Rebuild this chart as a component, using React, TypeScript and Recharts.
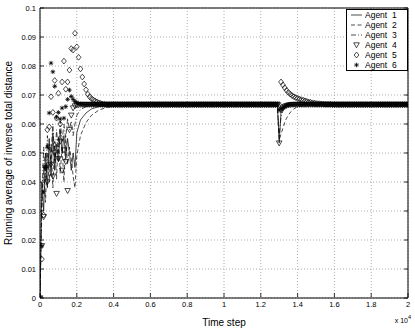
import { ComposedChart, Line, Scatter, XAxis, YAxis, CartesianGrid } from "recharts";

const FONT = '"Liberation Sans", Arial, Helvetica, sans-serif';

// time steps for marker agents (4-6), sampled every 100 steps
const T_EARLY = [
  0, 100, 200, 300, 400, 500, 600, 700, 800, 900, 1000, 1100, 1200, 1300, 1400, 1500, 1600, 1700, 1800, 1900, 2000,
  2100, 2200, 2300, 2400, 2500, 2600, 2700, 2800, 2900, 3000, 3100, 3200, 3300, 3400, 3500, 3600, 3700, 3800, 3900, 4000,
];
const T_MID = [
  4100, 4200, 4300, 4400, 4500, 4600, 4700, 4800, 4900, 5000, 5100, 5200, 5300, 5400, 5500, 5600, 5700, 5800, 5900, 6000,
  6100, 6200, 6300, 6400, 6500, 6600, 6700, 6800, 6900, 7000, 7100, 7200, 7300, 7400, 7500, 7600, 7700, 7800, 7900, 8000,
  8100, 8200, 8300, 8400, 8500, 8600, 8700, 8800, 8900, 9000, 9100, 9200, 9300, 9400, 9500, 9600, 9700, 9800, 9900, 10000,
  10100, 10200, 10300, 10400, 10500, 10600, 10700, 10800, 10900, 11000, 11100, 11200, 11300, 11400, 11500, 11600, 11700,
  11800, 11900, 12000, 12100, 12200, 12300, 12400, 12500, 12600, 12700, 12800,
];
const T_DIP = [
  12900, 13000, 13100, 13200, 13300, 13400, 13500, 13600, 13700, 13800, 13900, 14000, 14100, 14200, 14300, 14400, 14500,
  14600, 14700, 14800, 14900, 15000,
];
const T_LATE = [
  15100, 15200, 15300, 15400, 15500, 15600, 15700, 15800, 15900, 16000, 16100, 16200, 16300, 16400, 16500, 16600, 16700,
  16800, 16900, 17000, 17100, 17200, 17300, 17400, 17500, 17600, 17700, 17800, 17900, 18000, 18100, 18200, 18300, 18400,
  18500, 18600, 18700, 18800, 18900, 19000, 19100, 19200, 19300, 19400, 19500, 19600, 19700, 19800, 19900, 20000,
];
const T_MARK = [...T_EARLY, ...T_MID, ...T_DIP, ...T_LATE];

// settled value, 88 samples
const STEADY_MID = [
  0.0667, 0.0667, 0.0667, 0.0667, 0.0667, 0.0667, 0.0667, 0.0667, 0.0667, 0.0667, 0.0667,
  0.0667, 0.0667, 0.0667, 0.0667, 0.0667, 0.0667, 0.0667, 0.0667, 0.0667, 0.0667, 0.0667,
  0.0667, 0.0667, 0.0667, 0.0667, 0.0667, 0.0667, 0.0667, 0.0667, 0.0667, 0.0667, 0.0667,
  0.0667, 0.0667, 0.0667, 0.0667, 0.0667, 0.0667, 0.0667, 0.0667, 0.0667, 0.0667, 0.0667,
  0.0667, 0.0667, 0.0667, 0.0667, 0.0667, 0.0667, 0.0667, 0.0667, 0.0667, 0.0667, 0.0667,
  0.0667, 0.0667, 0.0667, 0.0667, 0.0667, 0.0667, 0.0667, 0.0667, 0.0667, 0.0667, 0.0667,
  0.0667, 0.0667, 0.0667, 0.0667, 0.0667, 0.0667, 0.0667, 0.0667, 0.0667, 0.0667, 0.0667,
  0.0667, 0.0667, 0.0667, 0.0667, 0.0667, 0.0667, 0.0667, 0.0667, 0.0667, 0.0667, 0.0667,
];
// settled value, 50 samples
const STEADY_LATE = [
  0.0667, 0.0667, 0.0667, 0.0667, 0.0667, 0.0667, 0.0667, 0.0667, 0.0667, 0.0667,
  0.0667, 0.0667, 0.0667, 0.0667, 0.0667, 0.0667, 0.0667, 0.0667, 0.0667, 0.0667,
  0.0667, 0.0667, 0.0667, 0.0667, 0.0667, 0.0667, 0.0667, 0.0667, 0.0667, 0.0667,
  0.0667, 0.0667, 0.0667, 0.0667, 0.0667, 0.0667, 0.0667, 0.0667, 0.0667, 0.0667,
  0.0667, 0.0667, 0.0667, 0.0667, 0.0667, 0.0667, 0.0667, 0.0667, 0.0667, 0.0667,
];

const AGENT4_EARLY = [
  0, 0.018, 0.028, 0.045, 0.04, 0.052, 0.046, 0.042, 0.05, 0.036, 0.048, 0.054, 0.044, 0.051, 0.047, 0.037, 0.058,
  0.063, 0.0655, 0.0662, 0.0665, 0.0666, 0.0667, 0.0667, 0.0667, 0.0667, 0.0667, 0.0667, 0.0667, 0.0667, 0.0667,
  0.0667, 0.0667, 0.0667, 0.0667, 0.0667, 0.0667, 0.0667, 0.0667, 0.0667, 0.0667,
];
const AGENT4_DIP = [
  0.0667, 0.0534, 0.0648, 0.0655, 0.066, 0.0663, 0.0665, 0.0666, 0.0667, 0.0667, 0.0667, 0.0667, 0.0667, 0.0667,
  0.0667, 0.0667, 0.0667, 0.0667, 0.0667, 0.0667, 0.0667, 0.0667,
];

const AGENT5_EARLY = [
  0, 0.0134, 0.0286, 0.045, 0.058, 0.059, 0.0694, 0.064, 0.075, 0.062, 0.0706, 0.06, 0.0745, 0.0817, 0.072, 0.0745,
  0.0786, 0.086, 0.0855, 0.0913, 0.0866, 0.083, 0.079, 0.0762, 0.0738, 0.0718, 0.0703, 0.0694, 0.0688, 0.0683,
  0.0679, 0.0676, 0.0673, 0.0671, 0.0669, 0.0668, 0.0667, 0.0667, 0.0667, 0.0667, 0.0667,
];
const AGENT5_DIP = [
  0.0667, 0.0667, 0.0745, 0.0735, 0.0725, 0.0716, 0.0709, 0.0703, 0.0698, 0.0694, 0.0691, 0.0688, 0.0686, 0.0684,
  0.0682, 0.068, 0.0678, 0.0676, 0.0675, 0.0673, 0.0672, 0.0671,
];
const AGENT5_LATE = [
  0.067, 0.067, 0.0669, 0.0669, 0.0668, 0.0668, 0.0668, 0.0668, 0.0667, 0.0667,
  0.0667, 0.0667, 0.0667, 0.0667, 0.0667, 0.0667, 0.0667, 0.0667, 0.0667, 0.0667,
  0.0667, 0.0667, 0.0667, 0.0667, 0.0667, 0.0667, 0.0667, 0.0667, 0.0667, 0.0667,
  0.0667, 0.0667, 0.0667, 0.0667, 0.0667, 0.0667, 0.0667, 0.0667, 0.0667, 0.0667,
  0.0667, 0.0667, 0.0667, 0.0667, 0.0667, 0.0667, 0.0667, 0.0667, 0.0667, 0.0667,
];

const AGENT6_EARLY = [
  0, 0.018, 0.0366, 0.045, 0.052, 0.0638, 0.081, 0.078, 0.073, 0.0624, 0.064, 0.0617, 0.0655, 0.062, 0.066, 0.0685,
  0.0717, 0.0695, 0.0685, 0.0678, 0.0674, 0.0671, 0.0669, 0.0668, 0.0667, 0.0667, 0.0667, 0.0667, 0.0667, 0.0667,
  0.0667, 0.0667, 0.0667, 0.0667, 0.0667, 0.0667, 0.0667, 0.0667, 0.0667, 0.0667, 0.0667,
];
const AGENT6_DIP = [
  0.0667, 0.0648, 0.0652, 0.0657, 0.0661, 0.0664, 0.0666, 0.0667, 0.0667, 0.0667, 0.0667, 0.0667, 0.0667, 0.0667,
  0.0667, 0.0667, 0.0667, 0.0667, 0.0667, 0.0667, 0.0667, 0.0667,
];

const AGENT4 = [...AGENT4_EARLY, ...STEADY_MID, ...AGENT4_DIP, ...STEADY_LATE];
const AGENT5 = [...AGENT5_EARLY, ...STEADY_MID, ...AGENT5_DIP, ...AGENT5_LATE];
const AGENT6 = [...AGENT6_EARLY, ...STEADY_MID, ...AGENT6_DIP, ...STEADY_LATE];

// time steps for line agents (1-3)
const T_LINE = [
  0, 100, 200, 300, 400, 500, 600, 700, 800, 900, 1000, 1100, 1200, 1300, 1400, 1500, 1600, 1700, 1800, 1900, 2000,
  2200, 2500, 2800, 3200, 3600, 4000, 4500, 5000,
  12900, 13000, 13100, 13200, 13300, 13400, 13600, 13800, 14000, 14500, 15000, 20000,
];
const AGENT1 = [
  0, 0.04, 0.03, 0.05, 0.038, 0.055, 0.042, 0.057, 0.044, 0.053, 0.047, 0.058, 0.05, 0.056, 0.048, 0.055, 0.05, 0.044,
  0.05, 0.045, 0.057,
  0.0614, 0.0638, 0.0652, 0.066, 0.0664, 0.0666, 0.0667, 0.0667,
  0.0667, 0.0534, 0.0645, 0.0656, 0.0661, 0.0664, 0.0666, 0.0667, 0.0667, 0.0667, 0.0667, 0.0667,
];
const AGENT2 = [
  0, 0.03, 0.045, 0.033, 0.05, 0.04, 0.052, 0.038, 0.054, 0.041, 0.056, 0.043, 0.052, 0.04, 0.055, 0.046, 0.052, 0.048,
  0.042, 0.038, 0.049,
  0.056, 0.0605, 0.063, 0.0648, 0.0657, 0.0662, 0.0665, 0.0667,
  0.0667, 0.0545, 0.0565, 0.0585, 0.0605, 0.062, 0.064, 0.0652, 0.066, 0.0666, 0.0667, 0.0667,
];
const AGENT3 = [
  0, 0.035, 0.052, 0.04, 0.056, 0.045, 0.05, 0.06, 0.047, 0.058, 0.05, 0.061, 0.054, 0.06, 0.055, 0.062, 0.058, 0.061,
  0.056, 0.06, 0.063,
  0.065, 0.066, 0.0664, 0.0666, 0.0667, 0.0667, 0.0667, 0.0667,
  0.0667, 0.056, 0.0625, 0.0645, 0.0655, 0.066, 0.0664, 0.0666, 0.0667, 0.0667, 0.0667, 0.0667,
];

const X_TICKS = [0, 2000, 4000, 6000, 8000, 10000, 12000, 14000, 16000, 18000, 20000];
const Y_TICKS = [0, 0.01, 0.02, 0.03, 0.04, 0.05, 0.06, 0.07, 0.08, 0.09, 0.1];

const LEGEND_NAMES = ["Agent  1", "Agent  2", "Agent  3", "Agent  4", "Agent  5", "Agent  6"];

const zip = (ts: number[], vs: number[]) => ts.map((t, i) => ({ t, v: vs[i] }));

const GAP = 4;
const TL = 4;

function BottomTick(p: any) {
  const ay = p.y - GAP - 1;
  return (
    <g>
      <line x1={p.x} x2={p.x} y1={ay} y2={ay - TL} stroke="#000" strokeWidth={0.8} />
      <text x={p.x} y={p.y} dy="0.71em" textAnchor="middle" fontSize={7.5} fontFamily={FONT} fill="#000">
        {String(p.payload.value / 10000)}
      </text>
    </g>
  );
}
function TopTick(p: any) {
  const ay = p.y + GAP;
  return <line x1={p.x} x2={p.x} y1={ay} y2={ay + TL} stroke="#000" strokeWidth={0.8} />;
}
function LeftTick(p: any) {
  const ax = p.x + GAP;
  return (
    <g>
      <line x1={ax} x2={ax + TL} y1={p.y} y2={p.y} stroke="#000" strokeWidth={0.8} />
      <text x={p.x} y={p.y} dy="0.35em" textAnchor="end" fontSize={7.5} fontFamily={FONT} fill="#000">
        {String(Number(p.payload.value.toFixed(2)))}
      </text>
    </g>
  );
}
function RightTick(p: any) {
  const ax = p.x - GAP;
  return <line x1={ax} x2={ax - TL} y1={p.y} y2={p.y} stroke="#000" strokeWidth={0.8} />;
}

function Tri({ cx, cy }: { cx: number; cy: number }) {
  return (
    <path
      d={`M${cx - 2.8},${cy - 2.2} L${cx + 2.8},${cy - 2.2} L${cx},${cy + 2.8} Z`}
      fill="none"
      stroke="#000"
      strokeWidth={0.7}
    />
  );
}
function Dia({ cx, cy }: { cx: number; cy: number }) {
  return (
    <path
      d={`M${cx},${cy - 2.9} L${cx + 2.4},${cy} L${cx},${cy + 2.9} L${cx - 2.4},${cy} Z`}
      fill="none"
      stroke="#000"
      strokeWidth={0.7}
    />
  );
}
function Star({ cx, cy }: { cx: number; cy: number }) {
  const r = 2.3;
  const d = 1.6;
  return (
    <path
      d={`M${cx - r},${cy} L${cx + r},${cy} M${cx},${cy - r} L${cx},${cy + r} M${cx - d},${cy - d} L${cx + d},${cy + d} M${cx - d},${cy + d} L${cx + d},${cy - d}`}
      stroke="#000"
      strokeWidth={0.8}
    />
  );
}

const LINE_STYLES = [undefined, "4 2.5", "5 2 1 2"];

function Legend() {
  return (
    <div
      style={{
        position: "absolute",
        left: 346,
        top: 9,
        width: 60,
        height: 60,
        border: "1px solid #000",
        background: "#fff",
        fontFamily: FONT,
        fontSize: 8.5,
      }}
    >
      {LEGEND_NAMES.map((name, i) => (
        <div key={name} style={{ height: 10, display: "flex", alignItems: "center" }}>
          <svg width={18} height={10}>
            {i < 3 ? (
              <line x1={4} x2={15} y1={5} y2={5} stroke="#000" strokeWidth={0.7} strokeDasharray={LINE_STYLES[i]} />
            ) : i === 3 ? (
              <Tri cx={9.5} cy={5} />
            ) : i === 4 ? (
              <Dia cx={9.5} cy={5} />
            ) : (
              <Star cx={9.5} cy={5} />
            )}
          </svg>
          <span style={{ whiteSpace: "pre", lineHeight: "10px" }}>{name}</span>
        </div>
      ))}
    </div>
  );
}

export default function App() {
  return (
    <div style={{ position: "absolute", left: 0, top: 0, width: 415, height: 329, background: "#fff" }}>
      <ComposedChart width={415} height={329} margin={{ top: 0, right: 0, bottom: 0, left: 0 }}>
        <CartesianGrid stroke="#9a9a9a" strokeDasharray="1 2" strokeWidth={0.8} />
        <XAxis
          dataKey="t"
          type="number"
          domain={[0, 20000]}
          allowDataOverflow
          ticks={X_TICKS}
          interval={0}
          height={31}
          tickSize={0}
          tickMargin={GAP}
          tick={BottomTick}
          axisLine={{ stroke: "#000" }}
          label={{ value: "Time step", position: "insideBottom", offset: 3, fontSize: 10, fontFamily: FONT, fill: "#000" }}
        />
        <XAxis
          xAxisId="top"
          orientation="top"
          type="number"
          domain={[0, 20000]}
          allowDataOverflow
          ticks={X_TICKS}
          interval={0}
          height={8}
          tickSize={0}
          tickMargin={GAP}
          tick={TopTick}
          axisLine={{ stroke: "#000" }}
        />
        <YAxis
          dataKey="v"
          type="number"
          domain={[0, 0.1]}
          allowDataOverflow
          ticks={Y_TICKS}
          interval={0}
          width={40}
          tickSize={0}
          tickMargin={GAP}
          tick={LeftTick}
          axisLine={{ stroke: "#000" }}
          label={{
            value: "Running average of inverse total distance",
            angle: -90,
            position: "insideLeft",
            offset: 8,
            fontSize: 10,
            fontFamily: FONT,
            fill: "#000",
            style: { textAnchor: "middle" },
          }}
        />
        <YAxis
          yAxisId="right"
          orientation="right"
          type="number"
          domain={[0, 0.1]}
          allowDataOverflow
          ticks={Y_TICKS}
          interval={0}
          width={7}
          tickSize={0}
          tickMargin={GAP}
          tick={RightTick}
          axisLine={{ stroke: "#000" }}
        />
        <Line data={zip(T_LINE, AGENT1)} dataKey="v" stroke="#000" strokeWidth={0.7} dot={false} isAnimationActive={false} />
        <Line data={zip(T_LINE, AGENT2)} dataKey="v" stroke="#000" strokeWidth={0.7} strokeDasharray="4 2.5" dot={false} isAnimationActive={false} />
        <Line data={zip(T_LINE, AGENT3)} dataKey="v" stroke="#000" strokeWidth={0.7} strokeDasharray="5 2 1 2" dot={false} isAnimationActive={false} />
        <Scatter data={zip(T_MARK, AGENT4)} dataKey="v" isAnimationActive={false} shape={(p: any) => <Tri cx={p.cx} cy={p.cy} />} />
        <Scatter data={zip(T_MARK, AGENT5)} dataKey="v" isAnimationActive={false} shape={(p: any) => <Dia cx={p.cx} cy={p.cy} />} />
        <Scatter data={zip(T_MARK, AGENT6)} dataKey="v" isAnimationActive={false} shape={(p: any) => <Star cx={p.cx} cy={p.cy} />} />
      </ComposedChart>
      <Legend />
      <div style={{ position: "absolute", right: 4, top: 314, fontFamily: FONT, fontSize: 7, whiteSpace: "pre" }}>
        x 10<sup style={{ fontSize: 5.5, verticalAlign: "4px" }}>4</sup>
      </div>
    </div>
  );
}
